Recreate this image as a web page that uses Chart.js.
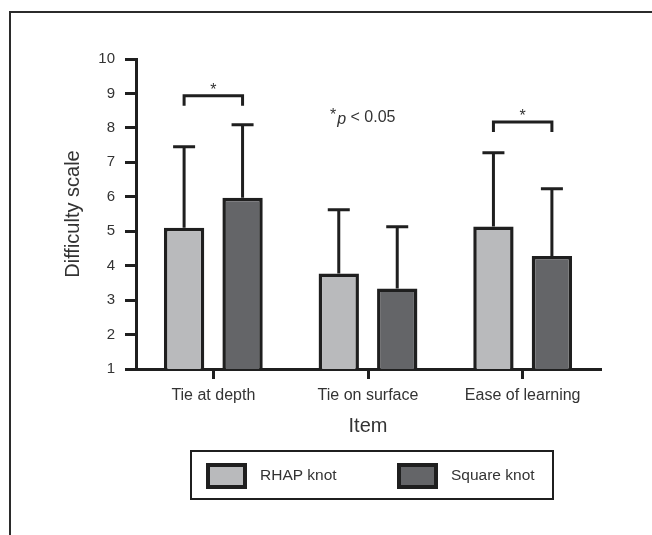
<!DOCTYPE html>
<html>
<head>
<meta charset="utf-8">
<script src="https://cdn.jsdelivr.net/npm/chart.js@4.4.1/dist/chart.umd.min.js"></script>
<style>
  html, body { margin:0; padding:0; background:#fff; }
  #wrap { width:652px; height:535px; }
</style>
</head>
<body>
<div id="wrap"><canvas id="chart" width="652" height="535"></canvas></div>
<script>
// data
const items = ['Tie at depth', 'Tie on surface', 'Ease of learning'];
const rhapMean = [5.1, 3.77, 5.14];
const rhapSd = [2.35, 1.85, 2.14];
const squareMean = [5.97, 3.34, 4.28];
const squareSd = [2.12, 1.79, 1.95];
const yTicks = [1, 2, 3, 4, 5, 6, 7, 8, 9, 10];
// significant pairs: item index + bracket level (scale units)
const sigItems = [0, 2];
const sigLevels = [8.93, 8.17];

const ink = '#1f1f1f';
const txt = '#333';
const font = '"Liberation Sans", Arial, sans-serif';
Chart.defaults.font.family = font;
Chart.defaults.color = txt;

const decor = {
  id: 'decor',
  beforeDraw(chart) {
    const ctx = chart.ctx;
    ctx.save();
    ctx.fillStyle = '#fff';
    ctx.fillRect(0, 0, chart.width, chart.height);
    // figure frame (open at right / bottom, like the crop)
    ctx.strokeStyle = '#2b2b2b';
    ctx.lineWidth = 2;
    ctx.beginPath();
    ctx.moveTo(10, chart.height);
    ctx.lineTo(10, 12);
    ctx.lineTo(chart.width, 12);
    ctx.stroke();
    ctx.restore();
  },
  afterDatasetsDraw(chart) {
    const { ctx, scales: { x, y } } = chart;
    ctx.save();
    ctx.strokeStyle = ink;
    ctx.lineWidth = 3;
    // error bars (upper only)
    chart.data.datasets.forEach((ds, di) => {
      chart.getDatasetMeta(di).data.forEach((bar, i) => {
        const top = y.getPixelForValue(ds.data[i] + ds.sd[i]);
        ctx.beginPath();
        ctx.moveTo(bar.x, bar.y);
        ctx.lineTo(bar.x, top);
        ctx.moveTo(bar.x - 11, top);
        ctx.lineTo(bar.x + 11, top);
        ctx.stroke();
      });
    });
    // significance brackets
    ctx.fillStyle = txt;
    ctx.font = '16px ' + font;
    ctx.textAlign = 'center';
    ctx.textBaseline = 'alphabetic';
    sigItems.forEach((idx, k) => {
      const x0 = chart.getDatasetMeta(0).data[idx].x;
      const x1 = chart.getDatasetMeta(1).data[idx].x;
      const py = y.getPixelForValue(sigLevels[k]);
      ctx.beginPath();
      ctx.moveTo(x0, py + 10);
      ctx.lineTo(x0, py);
      ctx.lineTo(x1, py);
      ctx.lineTo(x1, py + 10);
      ctx.stroke();
      ctx.fillText('*', (x0 + x1) / 2, py - 1);
    });
    // "*p < 0.05" note
    const nx = x.getPixelForValue(1) - 38;
    const ny = y.getPixelForValue(8.3);
    ctx.textAlign = 'left';
    ctx.textBaseline = 'middle';
    ctx.font = '16px ' + font;
    ctx.fillText('*', nx, ny - 2);
    const sw = ctx.measureText('*').width;
    ctx.font = 'italic 16px ' + font;
    ctx.fillText('p', nx + sw + 1, ny + 2);
    const pw = ctx.measureText('p').width;
    ctx.font = '16px ' + font;
    ctx.fillText(' < 0.05', nx + sw + 1 + pw, ny);
    ctx.restore();
  },
  afterDraw(chart) {
    const ctx = chart.ctx;
    ctx.save();
    // legend box
    ctx.strokeStyle = ink;
    ctx.lineWidth = 2;
    ctx.strokeRect(191, 451, 362, 48);
    const sx = [206, 397];
    chart.data.datasets.forEach((ds, i) => {
      ctx.fillStyle = ink;
      ctx.fillRect(sx[i], 463, 41, 26);
      ctx.fillStyle = ds.backgroundColor;
      ctx.fillRect(sx[i] + 4, 467, 33, 18);
      ctx.fillStyle = txt;
      ctx.font = '15.5px ' + font;
      ctx.textBaseline = 'middle';
      ctx.textAlign = 'left';
      ctx.fillText(ds.label, sx[i] + 54, 476);
    });
    ctx.restore();
  }
};

new Chart(document.getElementById('chart').getContext('2d'), {
  type: 'bar',
  data: {
    labels: items,
    datasets: [
      { label: 'RHAP knot', data: rhapMean, sd: rhapSd,
        backgroundColor: '#b9babc', borderColor: ink, borderWidth: 3.5,
        barPercentage: 0.69, categoryPercentage: 0.756 },
      { label: 'Square knot', data: squareMean, sd: squareSd,
        backgroundColor: '#646568', borderColor: ink, borderWidth: 3.5,
        barPercentage: 0.69, categoryPercentage: 0.756 }
    ]
  },
  options: {
    responsive: false,
    animation: false,
    layout: { padding: { top: 59, left: 50, right: 52, bottom: 96 } },
    plugins: { legend: { display: false }, tooltip: { enabled: false } },
    scales: {
      x: {
        grid: { drawOnChartArea: false, offset: false, color: ink, lineWidth: 3, tickLength: 10 },
        border: { color: ink, width: 3 },
        ticks: { font: { size: 16 }, color: txt, padding: 7 },
        title: { display: true, text: 'Item', font: { size: 20 }, color: txt, padding: { top: 0, bottom: 1 } },
        afterFit: s => { s.height = 70; s.paddingLeft = 0; s.paddingRight = 0; }
      },
      y: {
        min: 1, max: 10,
        afterBuildTicks: s => { s.ticks = yTicks.map(v => ({ value: v })); },
        grid: { drawOnChartArea: false, color: ink, lineWidth: 3, tickLength: 11 },
        border: { color: ink, width: 3 },
        ticks: { font: { size: 15 }, color: txt, padding: 10 },
        title: { display: true, text: 'Difficulty scale', font: { size: 20 }, color: txt, padding: { top: 11, bottom: 0 } },
        afterFit: s => { s.width = 86; s.paddingTop = 0; s.paddingBottom = 0; }
      }
    }
  },
  plugins: [decor]
});
</script>
</body>
</html>
